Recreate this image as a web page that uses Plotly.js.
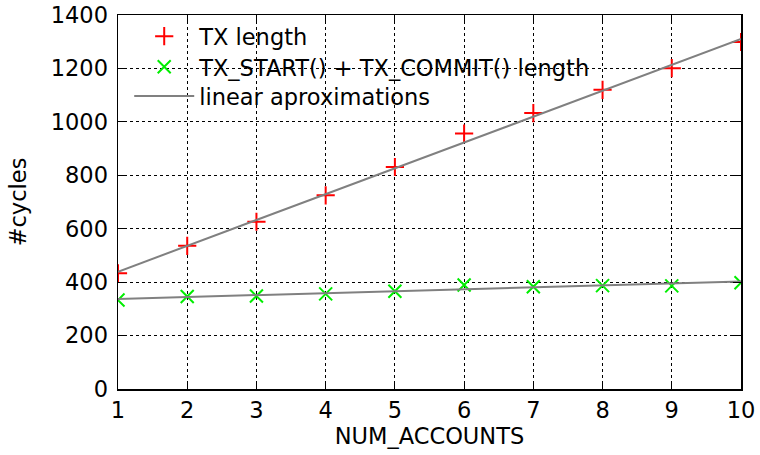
<!DOCTYPE html>
<html>
<head>
<meta charset="utf-8">
<script src="https://cdn.plot.ly/plotly-3.0.1.min.js"></script>
<style>
  html, body { margin: 0; padding: 0; background: #fff; }
  #chart { width: 760px; height: 455px; }
</style>
</head>
<body>
<div id="chart"></div>
<script>
// Number of accounts touched per transaction
const numAccounts = [1, 2, 3, 4, 5, 6, 7, 8, 9, 10];

// Measured cycle counts
const txLength = [433, 536, 626, 725, 831, 956, 1033, 1120, 1201, 1299];
const startCommitLength = [333, 346, 348, 356, 366, 389, 383, 387, 386, 398];

// Linear fits, given by their values at the ends of the range
const fitX = [1, 10];
const fitTx = [439, 1310];
const fitStartCommit = [337, 402];

const yTicks = [0, 200, 400, 600, 800, 1000, 1200, 1400];

const font = 'DejaVu Sans, Liberation Sans, sans-serif';
const fs = 22.5;

const traces = [
  {
    x: numAccounts, y: txLength, name: 'TX length',
    type: 'scatter', mode: 'markers', legend: 'legend',
    marker: { symbol: 'cross-thin-open', size: 13, color: '#ff0000',
              line: { color: '#ff0000', width: 2 } }
  },
  {
    x: numAccounts, y: startCommitLength, name: 'TX_START() + TX_COMMIT() length',
    type: 'scatter', mode: 'markers', legend: 'legend2',
    marker: { symbol: 'x-thin-open', size: 13, color: '#00ee00',
              line: { color: '#00ee00', width: 2 } }
  },
  {
    x: fitX.concat([null], fitX),
    y: fitTx.concat([null], fitStartCommit),
    name: 'linear aproximations', legend: 'legend3',
    type: 'scatter', mode: 'lines', connectgaps: false,
    line: { color: '#808080', width: 2 }
  }
];

const axisCommon = {
  showline: true, mirror: 'allticks', linecolor: '#000', linewidth: 1.5,
  ticks: 'inside', ticklen: 8, tickwidth: 1, tickcolor: '#000',
  showgrid: true, gridcolor: '#000', gridwidth: 1, griddash: 'dot',
  zeroline: false,
  tickfont: { family: font, size: fs, color: '#000' }
};

// one key row per entry, stacked at a tighter pitch than the default
function keyRow(y) {
  return {
    x: 0.018, y: y, xanchor: 'left', yanchor: 'top',
    bgcolor: 'rgba(0,0,0,0)', borderwidth: 0, itemwidth: 60,
    font: { family: font, size: fs, color: '#000' }
  };
}

const layout = {
  width: 760, height: 455,
  margin: { l: 118, r: 19, t: 15, b: 66 },
  paper_bgcolor: '#fff', plot_bgcolor: '#fff',
  font: { family: font, size: fs, color: '#000' },
  xaxis: Object.assign({}, axisCommon, {
    range: [1, 10], tickvals: numAccounts,
    title: { text: 'NUM_ACCOUNTS', font: { family: font, size: fs }, standoff: 4 }
  }),
  yaxis: Object.assign({}, axisCommon, {
    range: [0, 1400], tickvals: yTicks, ticklabelstandoff: 4,
    title: { text: '#cycles', font: { family: font, size: fs }, standoff: 18 }
  }),
  // white panel behind the key text, above the grid but under the data
  shapes: [{
    type: 'rect', xref: 'paper', yref: 'paper', layer: 'between',
    x0: 0.016, x1: 0.774, y0: 0.745, y1: 0.986,
    fillcolor: '#fff', line: { width: 0 }
  }],
  showlegend: true,
  legend: keyRow(1.0),
  legend2: keyRow(0.918),
  legend3: keyRow(0.84)
};

Plotly.newPlot('chart', traces, layout, { staticPlot: true, displayModeBar: false });
</script>
</body>
</html>
